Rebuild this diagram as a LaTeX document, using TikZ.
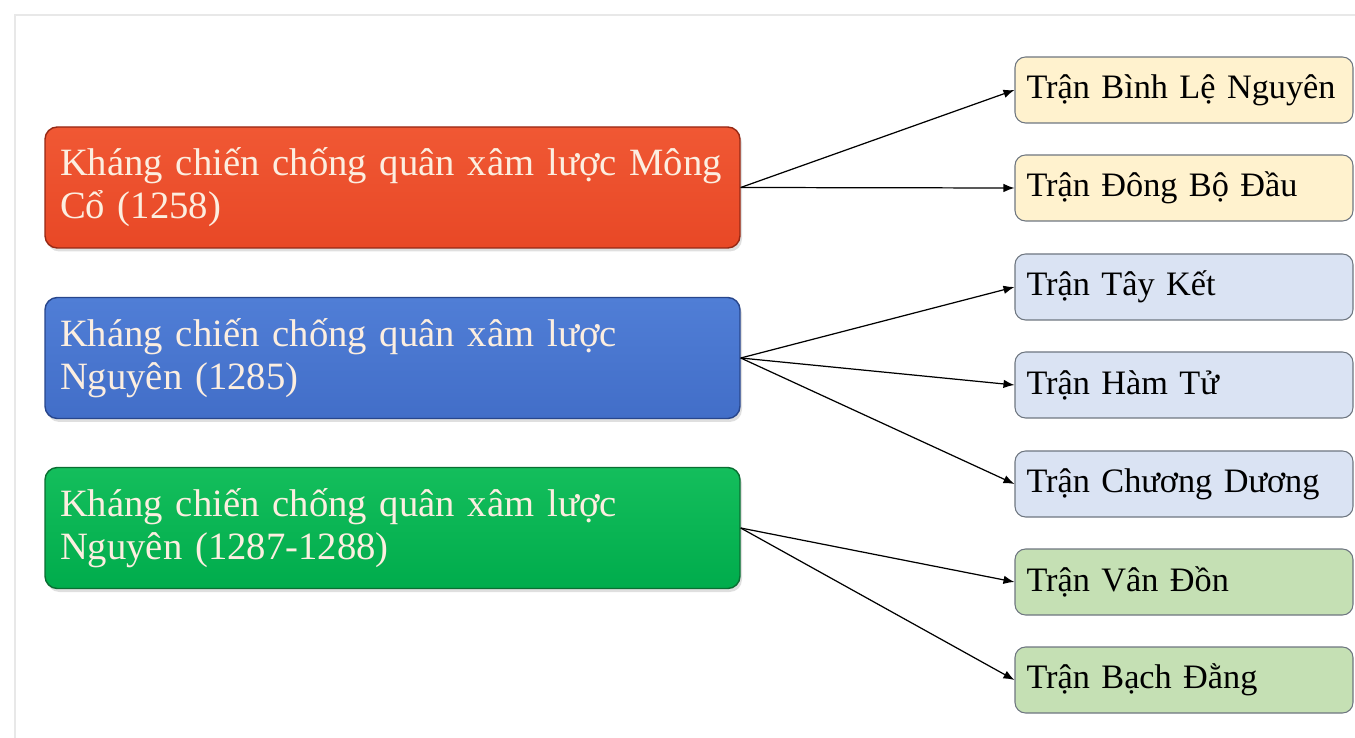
\documentclass[tikz,border=0pt]{standalone}
\usepackage{fontspec}
\setmainfont{Liberation Serif}
\usepackage{xcolor}
\usepackage{tikz}
\usetikzlibrary{arrows.meta,positioning,shadows}
\definecolor{warRed}{RGB}{232,72,38}
\definecolor{warRedTop}{RGB}{240,88,52}
\definecolor{warRedDark}{RGB}{150,40,20}
\definecolor{warBlue}{RGB}{66,110,200}
\definecolor{warBlueTop}{RGB}{80,126,214}
\definecolor{warBlueDark}{RGB}{40,70,140}
\definecolor{warGreen}{RGB}{0,172,76}
\definecolor{warGreenTop}{RGB}{20,190,92}
\definecolor{warGreenDark}{RGB}{10,110,50}
\definecolor{battleYellow}{RGB}{255,242,206}
\definecolor{battleBlue}{RGB}{218,227,243}
\definecolor{battleGreen}{RGB}{197,224,180}
\definecolor{battleEdge}{RGB}{110,118,128}
\definecolor{warText}{RGB}{252,238,224}
\definecolor{frameGray}{RGB}{232,232,232}
\newcommand{\tightwords}{\spaceskip=0.19em plus 0.05em\relax}

\begin{document}
\begin{tikzpicture}[
  >={Latex[length=2.2mm,width=1.7mm]},
  warbox/.style={rounded corners=7pt, line width=0.8pt, minimum width=13.9cm, minimum height=2.42cm,
    text width=13.3cm, inner xsep=0.3cm, align=left, text=warText,
    font=\fontsize{22}{24.5}\selectfont\tightwords,
    drop shadow={opacity=0.25, shadow xshift=0.04cm, shadow yshift=-0.07cm}},
  battlebox/.style={draw=battleEdge, rounded corners=6pt, line width=0.6pt, minimum width=6.76cm,
    minimum height=1.32cm, text width=6.3cm, inner xsep=0.23cm, align=left,
    font=\fontsize{19.5}{22}\selectfont\tightwords},
  link/.style={->, line width=0.7pt, black}
]
\useasboundingbox (0,0) rectangle (27.1,-14.76);
\draw[frameGray, line width=1.2pt] (0.3,-14.9) |- (27.3,-0.3);

\node[warbox, draw=warRedDark, top color=warRedTop, bottom color=warRed] (mongco) at (7.85,-3.75)
  {Kháng chiến chống quân xâm lược Mông\\Cổ (1258)};
\node[warbox, draw=warBlueDark, top color=warBlueTop, bottom color=warBlue] (nguyen1) at (7.85,-7.16)
  {Kháng chiến chống quân xâm lược\\Nguyên (1285)};
\node[warbox, draw=warGreenDark, top color=warGreenTop, bottom color=warGreen] (nguyen2) at (7.85,-10.56)
  {Kháng chiến chống quân xâm lược\\Nguyên (1287-1288)};

\node[battlebox, fill=battleYellow] (binhle) at (23.68,-1.8) {Trận Bình Lệ Nguyên};
\node[battlebox, fill=battleYellow] (dongbo) at (23.68,-3.76) {Trận Đông Bộ Đầu};
\node[battlebox, fill=battleBlue] (tayket) at (23.68,-5.74) {Trận Tây Kết};
\node[battlebox, fill=battleBlue] (hamtu) at (23.68,-7.7) {Trận Hàm Tử};
\node[battlebox, fill=battleBlue] (chuongduong) at (23.68,-9.68) {Trận Chương Dương};
\node[battlebox, fill=battleGreen] (vandon) at (23.68,-11.64) {Trận Vân Đồn};
\node[battlebox, fill=battleGreen] (bachdang) at (23.68,-13.6) {Trận Bạch Đằng};

\draw[link] (mongco.east) -- (binhle.west);
\draw[link] (mongco.east) -- (dongbo.west);
\draw[link] (nguyen1.east) -- (tayket.west);
\draw[link] (nguyen1.east) -- (hamtu.west);
\draw[link] (nguyen1.east) -- (chuongduong.west);
\draw[link] (nguyen2.east) -- (vandon.west);
\draw[link] (nguyen2.east) -- (bachdang.west);
\end{tikzpicture}
\end{document}
